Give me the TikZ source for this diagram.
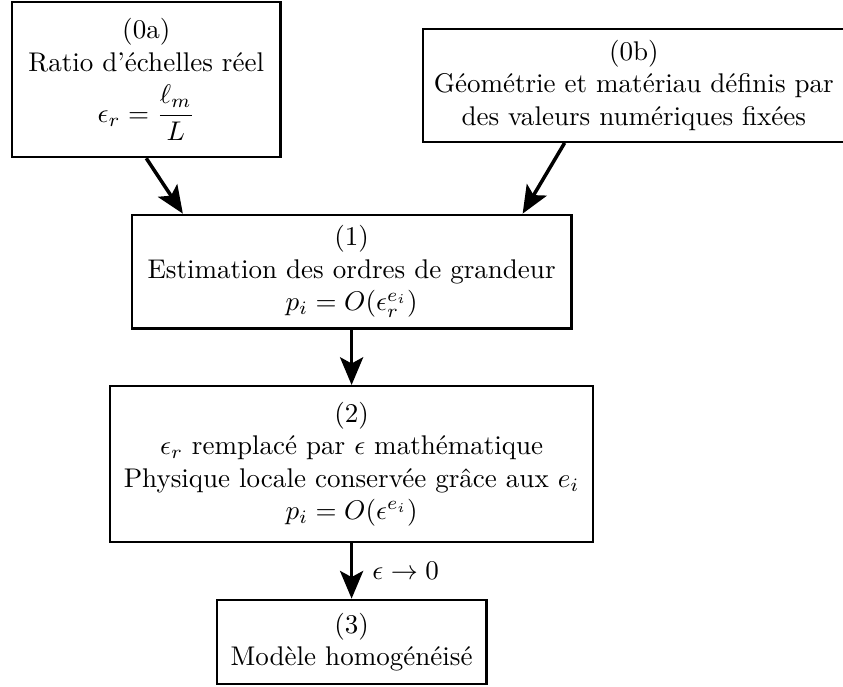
\documentclass[tikz,border=0pt]{standalone}
\usepackage{amsmath,amssymb}
\usepackage{tikz}
\usetikzlibrary{arrows.meta,positioning}
\tikzset{
  stage/.style={draw=black, line width=0.8pt, fill=white, text=black, align=center,
    inner sep=4pt, font=\normalsize},
  flowarr/.style={-{Stealth[length=3.6mm, width=3mm, inset=0.8mm]}, draw=black, line width=1.3pt},
  note/.style={align=center, font=\normalsize, inner sep=3pt},
}
\begin{document}
\begin{tikzpicture}

% ================= main chain =================
\node[stage, minimum width=5.72cm, minimum height=1.48cm] (s1) at (0,0)
  {(1)\\ Estimation des ordres de grandeur\\ $p_i = O(\epsilon_r^{e_i})$};
\node[stage, below=0.72cm of s1, minimum width=6.28cm, minimum height=2.03cm] (s2)
  {(2)\\ $\epsilon_r$ remplacé par $\epsilon$ mathématique\\
   Physique locale conservée grâce aux $e_i$\\ $p_i = O(\epsilon^{e_i})$};
\node[stage, below=0.72cm of s2, minimum width=3.51cm, minimum height=1.1cm] (s3)
  {(3)\\ Modèle homogénéisé};

% ================= inputs =================
\node[stage, above=0.72cm of s1, xshift=-2.67cm, minimum width=3.49cm, minimum height=2.02cm] (s0a)
  {(0a)\\ Ratio d'échelles réel\\[4pt] $\epsilon_r = \dfrac{\ell_m}{L}$};
\node[stage, above=0.92cm of s1, xshift=3.67cm, minimum width=5.45cm, minimum height=1.47cm] (s0b)
  {(0b)\\ Géométrie et matériau définis par\\ des valeurs numériques fixées};

% arrows
\draw[flowarr] (s0a.south) -- ([xshift=0.68cm]s1.north west);
\draw[flowarr] ([xshift=-0.9cm]s0b.south) -- ([xshift=-0.65cm]s1.north east);
\draw[flowarr] (s1) -- (s2);
\draw[flowarr] (s2) -- node[right=4pt,note]{$\epsilon \to 0$} (s3);

% page frame
\pgfresetboundingbox
\useasboundingbox ([xshift=-0.143cm,yshift=0.01cm]s0a.north west) rectangle ++(10.962,-8.921);

\end{tikzpicture}
\end{document}
